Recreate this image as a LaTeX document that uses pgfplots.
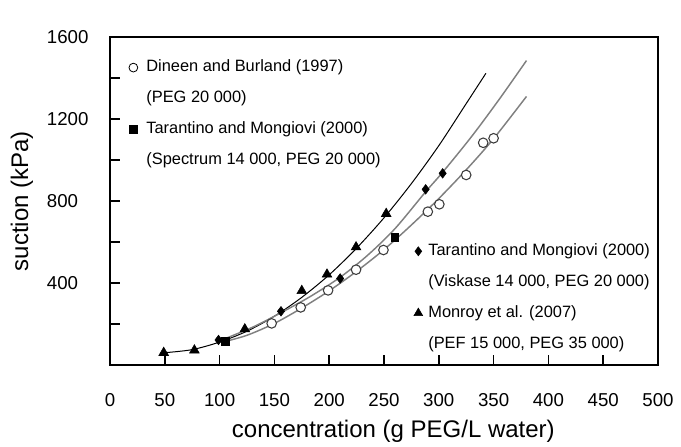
\documentclass[border=0pt]{standalone}
\usepackage{fontspec}
\setmainfont{Liberation Sans}
\usepackage{pgfplots}
\pgfplotsset{compat=1.18}
\definecolor{curvegray}{RGB}{128,128,128}
\definecolor{markgray}{RGB}{60,60,60}
\begin{document}
\begin{tikzpicture}
\begin{axis}[
  name=ax,
  scale only axis,
  width=411pt, height=246pt,
  xmin=0, xmax=500, ymin=0, ymax=1600,
  axis line style={line width=1.5pt},
  xtick={0,50,...,500},
  ytick={200,400,...,1600},
  yticklabels={,400,,800,,1200,,1600},
  xtick pos=bottom, ytick pos=left,
  tick align=inside,
  major tick length=7.5pt,
  tick style={black, line width=1.2pt},
  /pgf/number format/assume math mode=true,
  /pgf/number format/1000 sep={},
  xticklabel style={font=\fontsize{14}{16}\selectfont, anchor=center, inner sep=0pt, yshift=-26.3pt},
  yticklabel style={font=\fontsize{14}{16}\selectfont, anchor=west, inner sep=0pt, xshift=-47.5pt},
  xlabel={concentration (g PEG/L water)},
  ylabel={suction (kPa)},
  xlabel style={font=\fontsize{18}{20}\selectfont, at={(axis description cs:0.5,0)}, anchor=center, yshift=-49.5pt, xshift=7pt},
  ylabel style={font=\fontsize{18}{20}\selectfont, at={(axis description cs:0,0.5)}, anchor=center, yshift=66pt},
  legend cell align=left,
  legend image code/.code={\path[draw=none,fill=none] (0pt,0pt) -- (13.25pt,0pt); \draw[mark repeat=2,mark phase=2,#1] plot coordinates {(0pt,0pt)(5pt,0pt)(13pt,0pt)};},
  legend style={draw=none, fill=none, inner sep=0pt, row sep=9.2pt,
    font=\fontsize{12.3}{14}\selectfont,
    nodes={inner sep=1.5pt, text height=8.6pt, text depth=2.4pt},
    at={(rel axis cs:0.030,0.936)}, anchor=north west},
]
% fitted curves
\addplot[black, line width=0.75pt, smooth, forget plot] coordinates {
(50,60)(75,75)(100,112)(125,165)(150,238)(175,330)(200,440)(225,570)(250,718)(275,885)(300,1070)(325,1275)(343,1423)};
\addplot[curvegray, line width=1.1pt, smooth, forget plot] coordinates {
(100,118)(130,184)(156,255)(183,335)(210,428)(235,535)(260,665)(288,845)(303.5,940)(330,1115)(355,1295)(380,1485)};
\addplot[curvegray, line width=1.1pt, smooth, forget plot] coordinates {
(103,112)(125,145)(150,203)(175,278)(200,362)(225,457)(250,563)(275,683)(300,812)(325,952)(350,1104)(380,1310)};
% Monroy et al. (2007)
\addplot[only marks, mark=triangle*, mark size=4.2pt, black, forget plot] coordinates {
(49,60)(77,72)(123,175)(175,362)(198,442)(224.5,575)(252,738)};
% Dineen and Burland (1997)
\addplot[only marks, mark=*, mark size=3.6pt, draw=markgray, fill=white, line width=0.8pt, forget plot] coordinates {
(147.5,203)(174,281)(199,364)(224.5,465)(249.5,561)(290,748)(300.5,784)(325,927)(340.5,1084)(350,1106)};
% Tarantino and Mongiovi (2000) Viskase
\addplot[only marks, mark=diamond*, mark size=3.6pt, black, forget plot] coordinates {
(99,122)(156,262)(210,422)(288,857)(303.5,935)};
% Tarantino and Mongiovi (2000) Spectrum
\addplot[only marks, mark=square*, mark size=2.8pt, black, forget plot] coordinates {
(105,115)(260,623)};
\addlegendimage{only marks, mark=o, mark size=3.3pt, black, line width=0.6pt}
\addlegendentry{Dineen and Burland (1997)}
\addlegendimage{empty legend}
\addlegendentry{(PEG 20 000)}
\addlegendimage{only marks, mark=square*, mark size=3pt, black}
\addlegendentry{Tarantino and Mongiovi (2000)}
\addlegendimage{empty legend}
\addlegendentry{(Spectrum 14 000, PEG 20 000)}
\end{axis}
\begin{axis}[
  scale only axis,
  width=411pt, height=246pt,
  xmin=0, xmax=500, ymin=0, ymax=1600,
  hide axis,
  legend cell align=left,
  legend image code/.code={\path[draw=none,fill=none] (0pt,0pt) -- (11pt,0pt); \draw[mark repeat=2,mark phase=2,#1] plot coordinates {(0pt,0pt)(5pt,0pt)(11pt,0pt)};},
  legend style={draw=none, fill=none, inner sep=0pt, row sep=9.2pt,
    font=\fontsize{12.3}{14}\selectfont,
    nodes={inner sep=1.5pt, text height=8.6pt, text depth=2.4pt},
    at={(rel axis cs:0.550,0.376)}, anchor=north west},
]
\addlegendimage{only marks, mark=diamond*, mark size=3.4pt, black}
\addlegendentry{Tarantino and Mongiovi (2000)}
\addlegendimage{empty legend}
\addlegendentry{(Viskase 14 000, PEG 20 000)}
\addlegendimage{only marks, mark=triangle*, mark size=3.8pt, black}
\addlegendentry{Monroy et al. (2007)}
\addlegendimage{empty legend}
\addlegendentry{(PEF 15 000, PEG 35 000)}
\end{axis}
\pgfresetboundingbox
\path[use as bounding box] ([shift={(-82.5pt,-60.75pt)}]ax.south west) rectangle ([shift={(428.25pt,273.75pt)}]ax.south west);
\end{tikzpicture}
\end{document}
